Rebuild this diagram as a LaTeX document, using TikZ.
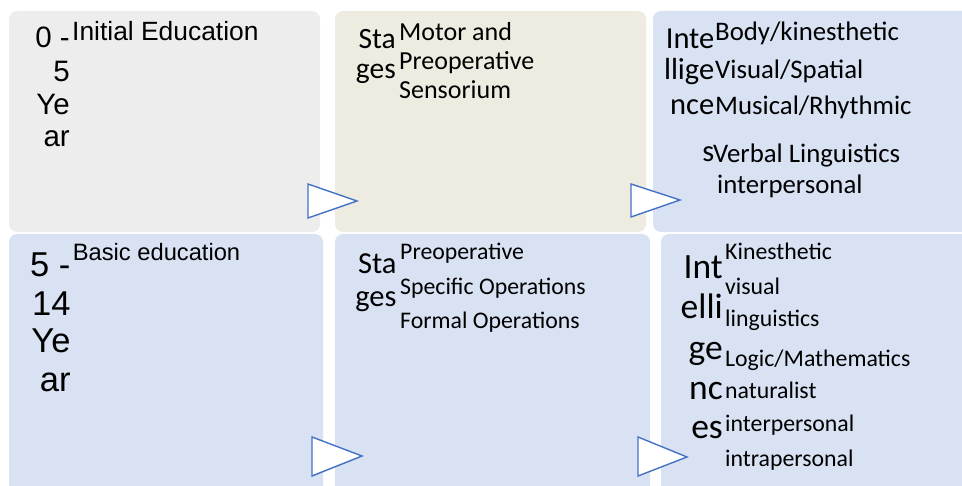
\documentclass[tikz,border=0pt]{standalone}
\usepackage{fontspec}
\newfontfamily\arialfont{Liberation Sans}
\newfontfamily\calfont{Carlito}
\definecolor{panelgray}{HTML}{EDEDED}
\definecolor{paneltan}{HTML}{EEECE1}
\definecolor{panelblue}{HTML}{D9E2F3}
\definecolor{triblue}{HTML}{4472C4}

\begin{document}
\begin{tikzpicture}[x=1pt, y=-1pt,
  panel/.style={rounded corners=8pt},
  tri/.style={draw=triblue, fill=white, line width=1.4pt},
  lead/.style={inner sep=0pt, anchor=base east},
  item/.style={inner sep=0pt, anchor=base west}]
\useasboundingbox (0,0) rectangle (962,486);
\clip (0,0) rectangle (962,486);

% panels
\fill[panel, panelgray] (9,11) rectangle (320,232);
\fill[panel, paneltan] (335,11) rectangle (646,232);
\fill[panel, panelblue] (653,11) rectangle (970,232);
\fill[panel, panelblue] (9,234) rectangle (323,500);
\fill[panel, panelblue] (335,234) rectangle (650,500);
\fill[panel, panelblue] (661,234) rectangle (970,500);

% pointers between panels
\draw[tri] (308,184) -- (308,218) -- (357,201) -- cycle;
\draw[tri] (631,184) -- (631,217) -- (680,200) -- cycle;
\draw[tri] (312,437) -- (312,476) -- (362,456) -- cycle;
\draw[tri] (638,437) -- (638,476) -- (687,457) -- cycle;

% first row
\foreach \txt/\y [count=\i] in {0 -/48, 5/82, Ye/115, ar/147}
  \node[lead, font=\arialfont\fontsize{29.5}{30}\selectfont] (age1-\i) at (70,\y) {\txt};
\node[item, font=\arialfont\fontsize{26.4}{28}\selectfont] (initial) at (72,41) {Initial Education};

\foreach \txt/\y [count=\i] in {Sta/48.3, ges/78.3}
  \node[lead, font=\calfont\fontsize{29.5}{30}\selectfont] (stg1-\i) at (396,\y) {\txt};
\foreach \txt/\y [count=\i] in {Motor and/40.7, Preoperative/70, Sensorium/98.3}
  \node[item, font=\calfont\fontsize{26}{28}\selectfont] (piaget1-\i) at (399,\y) {\txt};

\foreach \txt/\y [count=\i] in {Inte/48.3, llige/80, nce/115, s/161.5}
  \node[lead, font=\calfont\fontsize{30.5}{32}\selectfont] (int1-\i) at (714.5,\y) {\txt};
\foreach \txt/\x/\y [count=\i] in {{Body/kinesthetic}/715/41, {Visual/Spatial}/715/78.5,
    {Musical/Rhythmic}/715/115, Verbal Linguistics/713/163, interpersonal/717/194}
  \node[item, font=\calfont\fontsize{26.8}{28}\selectfont] (gard1-\i) at (\x,\y) {\txt};

% second row
\foreach \txt/\y [count=\i] in {5 -/277, 14/316, Ye/353, ar/392}
  \node[lead, font=\arialfont\fontsize{34.5}{36}\selectfont] (age2-\i) at (70.7,\y) {\txt};
\node[item, font=\arialfont\fontsize{23.7}{25}\selectfont] (basic) at (72.7,260.7) {Basic education};

\foreach \txt/\y [count=\i] in {Sta/273.3, ges/307}
  \node[lead, font=\calfont\fontsize{30.5}{32}\selectfont] (stg2-\i) at (396.7,\y) {\txt};
\foreach \txt/\y [count=\i] in {Preoperative/260, Specific Operations/295, Formal Operations/328.3}
  \node[item, font=\calfont\fontsize{23.8}{25}\selectfont] (piaget2-\i) at (400,\y) {\txt};

\foreach \txt/\y [count=\i] in {Int/278.3, elli/318.3, ge/360, nc/400, es/438.3}
  \node[lead, font=\calfont\fontsize{35.5}{36}\selectfont] (int2-\i) at (723,\y) {\txt};
\foreach \txt/\y [count=\i] in {Kinesthetic/260, visual/295, linguistics/326.7,
    {Logic/Mathematics}/366.7, naturalist/398.3, interpersonal/431.7, intrapersonal/466.7}
  \node[item, font=\calfont\fontsize{23.8}{25}\selectfont] (gard2-\i) at (725,\y) {\txt};
\end{tikzpicture}
\end{document}
